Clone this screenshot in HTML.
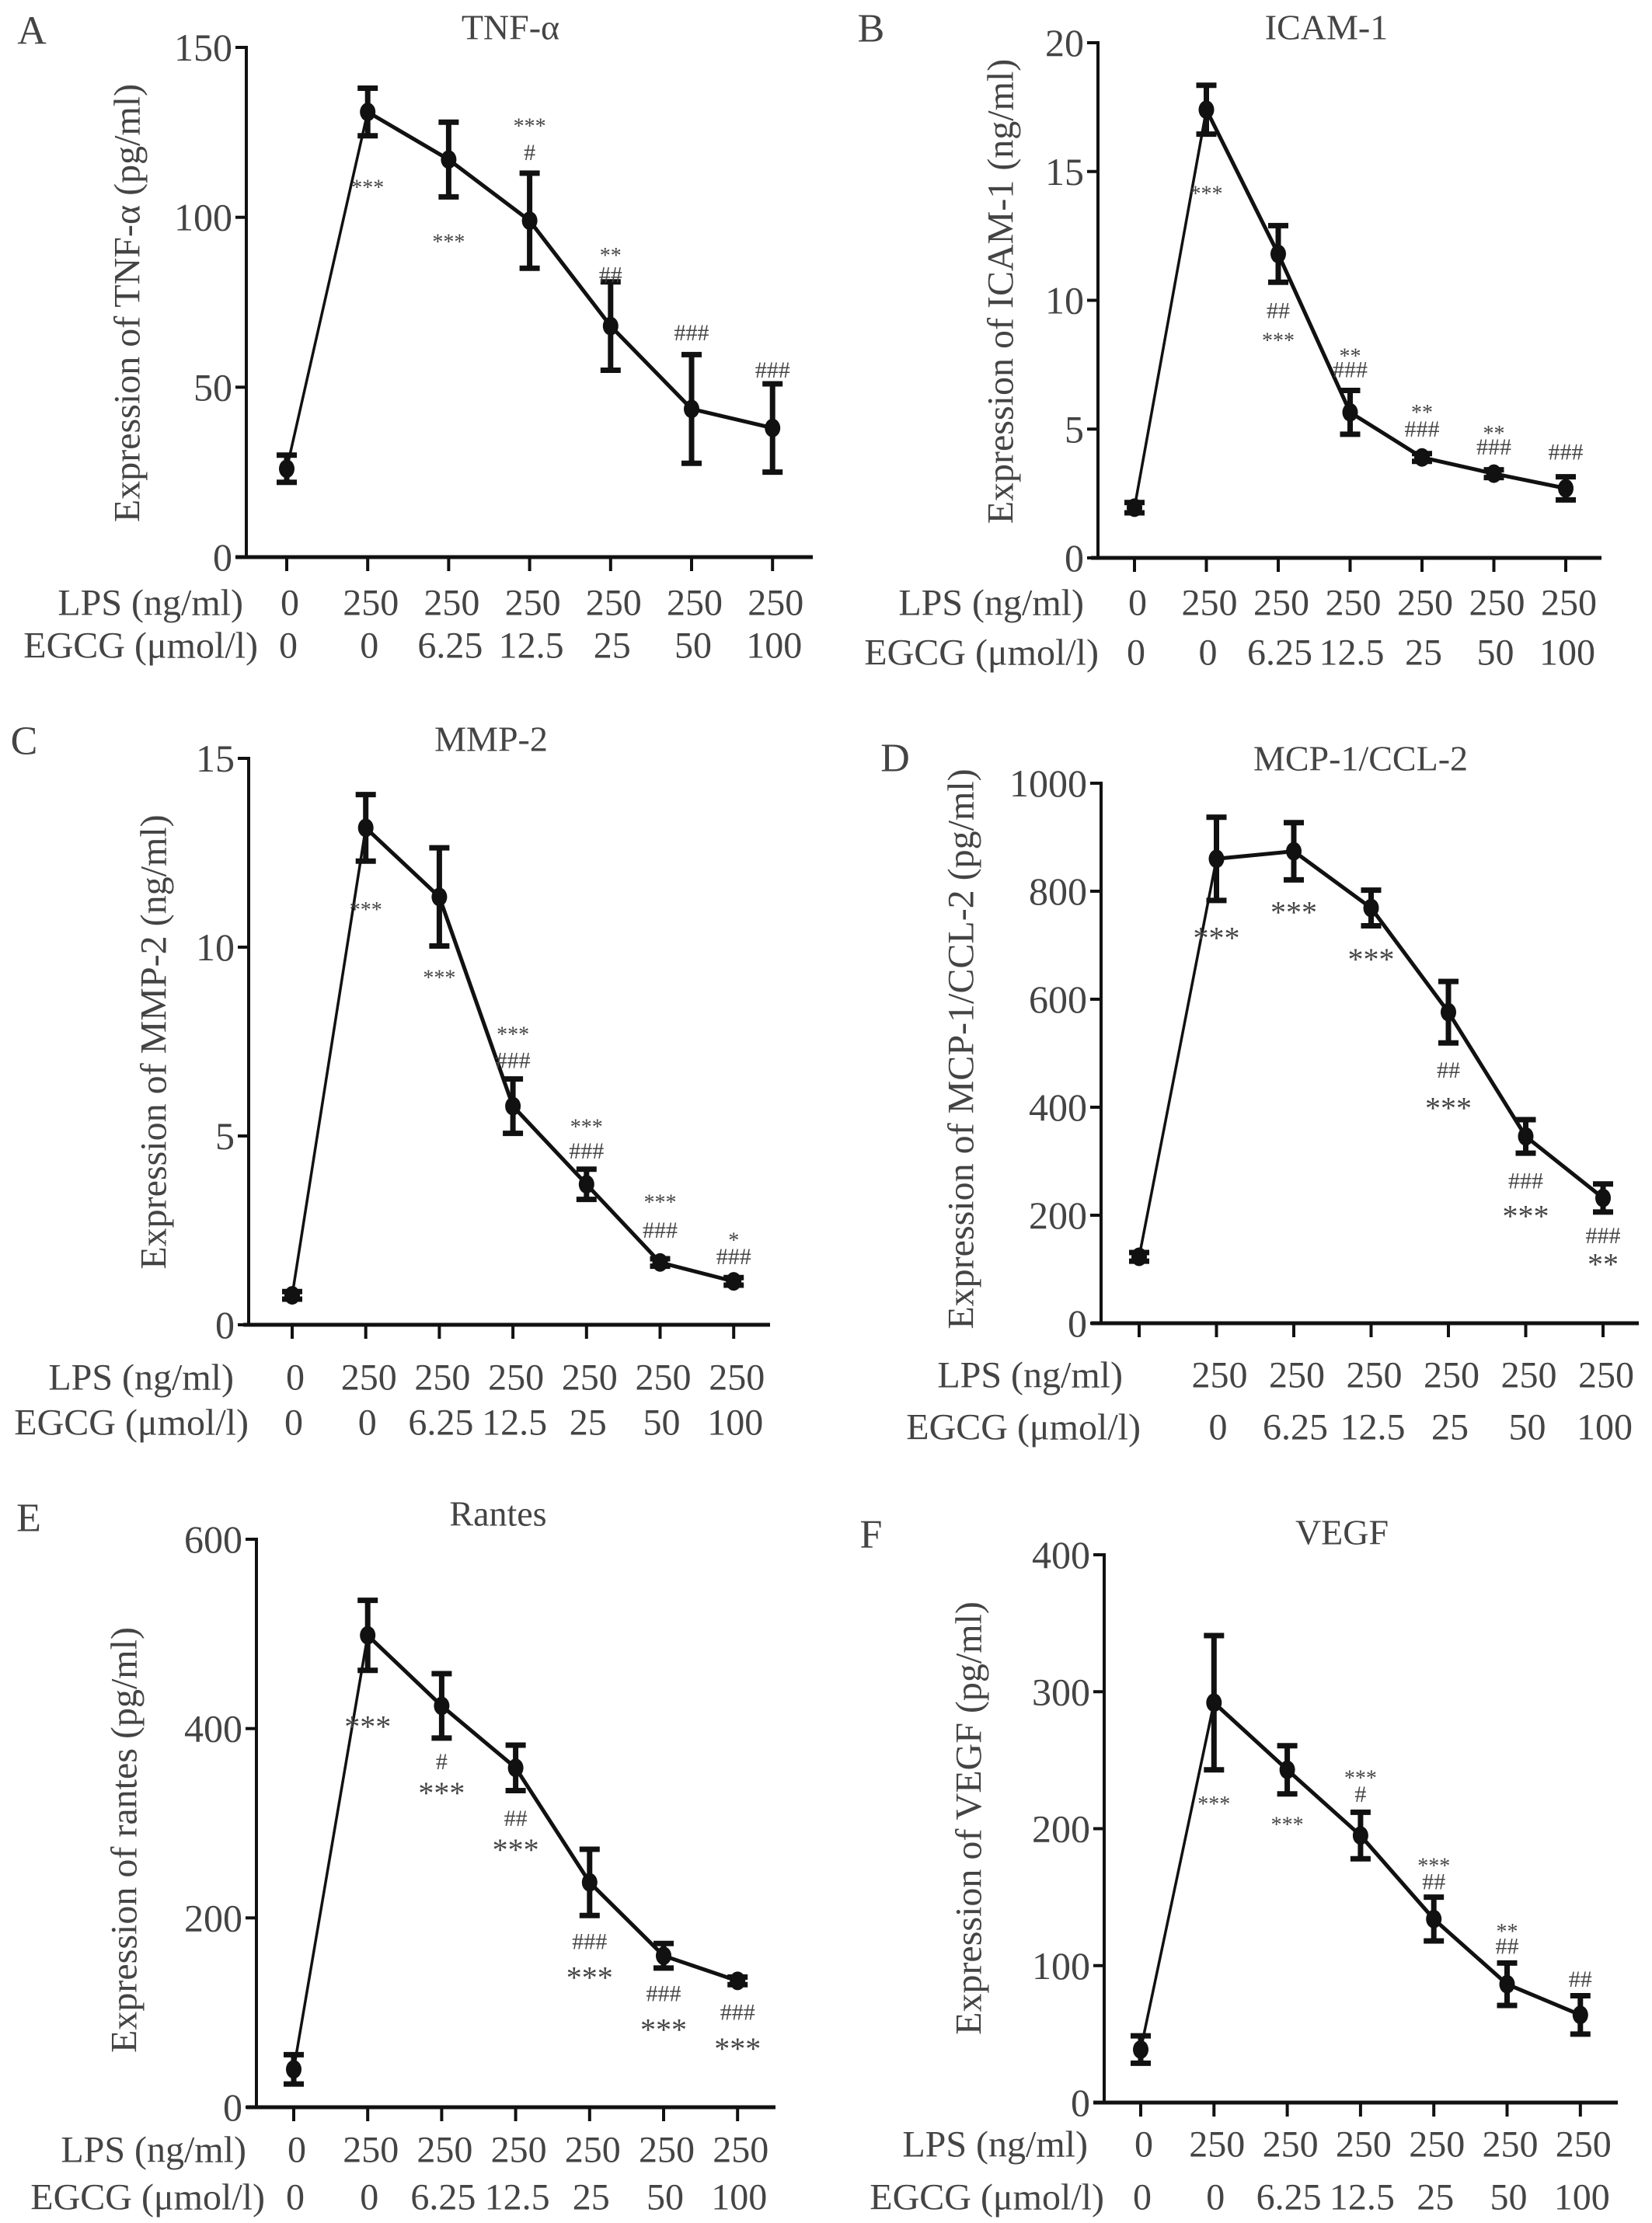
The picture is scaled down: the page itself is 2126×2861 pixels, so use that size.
<!DOCTYPE html>
<html><head><meta charset="utf-8">
<style>
html,body{margin:0;padding:0;background:#fff;}
svg{display:block;font-family:"Liberation Serif",serif;}
svg text{font-family:"Liberation Serif",serif;fill:#444;}
</style></head>
<body>
<svg id="fig" width="2126" height="2861" viewBox="0 0 2126 2861" xmlns="http://www.w3.org/2000/svg" font-family="Liberation Serif, serif"></svg>
<script>
// ---- data ----
const lpsLabels = ["0","250","250","250","250","250","250"];
const egcgLabels = ["0","0","6.25","12.5","25","50","100"];

const valuesA = [26, 131, 117, 99, 68, 43.6, 38];
const errorsA = [4, 7, 11, 14, 13, 16, 13];
const ticksA = [0, 50, 100, 150];
const annotA = [[1,"***",110],[2,"***",94],[3,"***",128],[3,"#",119],[4,"**",90],[4,"##",83],[5,"###",66],[6,"###",55]];

const valuesB = [1.95, 17.4, 11.8, 5.65, 3.9, 3.27, 2.7];
const errorsB = [0.2, 0.95, 1.1, 0.85, 0.15, 0.15, 0.45];
const ticksB = [0, 5, 10, 15, 20];
const annotB = [[1,"***",14.3],[2,"##",9.6],[2,"***",8.6],[3,"**",8.0],[3,"###",7.3],[4,"**",5.8],[4,"###",5.0],[5,"**",5.0],[5,"###",4.3],[6,"###",4.1]];

const valuesC = [0.78, 13.16, 11.33, 5.79, 3.72, 1.65, 1.15];
const errorsC = [0.1, 0.88, 1.3, 0.72, 0.4, 0.1, 0.1];
const ticksC = [0, 5, 10, 15];
const annotC = [[1,"***",11.1],[2,"***",9.3],[3,"***",7.8],[3,"###",7.0],[4,"***",5.35],[4,"###",4.6],[5,"***",3.35],[5,"###",2.5],[6,"*",2.35],[6,"###",1.8]];

const valuesD = [123, 860, 874, 769, 576, 346, 232];
const errorsD = [8, 77, 53, 33, 57, 31, 26];
const ticksD = [0, 200, 400, 600, 800, 1000];
const annotD = [[1,"***",722],[2,"***",770],[3,"***",683],[4,"##",468],[4,"***",407],[5,"###",263],[5,"***",207],[6,"###",162],[6,"**",118]];
const lpsLabelsD = ["","250","250","250","250","250","250"];
const egcgLabelsD = ["","0","6.25","12.5","25","50","100"];

const valuesE = [40, 498.5, 424, 358.5, 237.5, 160, 133.5];
const errorsE = [15.5, 37, 34, 24, 35, 13, 4];
const ticksE = [0, 200, 400, 600];
const annotE = [[1,"***",407],[2,"#",365],[2,"***",337],[3,"##",305],[3,"***",277],[4,"###",175],[4,"***",142],[5,"###",120],[5,"***",87],[6,"###",100],[6,"***",67]];

const valuesF = [38.7, 292, 243, 195, 134, 86.4, 64];
const errorsF = [10, 49, 17.6, 17, 16, 15.5, 14];
const ticksF = [0, 100, 200, 300, 400];
const annotF = [[1,"***",221],[2,"***",206],[3,"***",240],[3,"#",225],[4,"***",176],[4,"##",161],[5,"**",128],[5,"##",114],[6,"##",90]];

// ---- layout ----
const panels = [
 {id:"a",letter:"A",title:"TNF-α",ytitle:"Expression of TNF-α (pg/ml)",vals:valuesA,errs:errorsA,ticks:ticksA,ann:annotA,lps:lpsLabels,egcg:egcgLabels,
  ax:317,y0:717,yt:61,max:150,c0:369,cs:104.2,xa0:303,xa1:1046,rl:776,re:831,le:313,ee:332,tx:657,ty:35,lx:41,ly:40,ytx:164,yty:390,big:false},
 {id:"b",letter:"B",title:"ICAM-1",ytitle:"Expression of ICAM-1 (ng/ml)",vals:valuesB,errs:errorsB,ticks:ticksB,ann:annotB,lps:lpsLabels,egcg:egcgLabels,
  ax:1413,y0:718,yt:55,max:20,c0:1460,cs:92.5,xa0:1404,xa1:2061,rl:776,re:840,le:1395,ee:1414,tx:1707,ty:35,lx:1121,ly:37,ytx:1288,yty:375,big:false},
 {id:"c",letter:"C",title:"MMP-2",ytitle:"Expression of MMP-2 (ng/ml)",vals:valuesC,errs:errorsC,ticks:ticksC,ann:annotC,lps:lpsLabels,egcg:egcgLabels,
  ax:320,y0:1705,yt:976,max:15,c0:376,cs:94.7,xa0:313,xa1:991,rl:1773,re:1831,le:301,ee:320,tx:632,ty:951,lx:31,ly:954,ytx:198,yty:1341,big:false},
 {id:"d",letter:"D",title:"MCP-1/CCL-2",ytitle:"Expression of MCP-1/CCL-2 (pg/ml)",vals:valuesD,errs:errorsD,ticks:ticksD,ann:annotD,lps:lpsLabelsD,egcg:egcgLabelsD,
  ax:1417,y0:1703,yt:1008,max:1000,c0:1466,cs:99.5,xa0:1404,xa1:2109,rl:1770,re:1837,le:1445,ee:1468,tx:1751,ty:976,lx:1152,ly:976,ytx:1237,yty:1350,big:true},
 {id:"e",letter:"E",title:"Rantes",ytitle:"Expression of rantes (pg/ml)",vals:valuesE,errs:errorsE,ticks:ticksE,ann:annotE,lps:lpsLabels,egcg:egcgLabels,
  ax:330,y0:2712,yt:1981,max:600,c0:378,cs:95.2,xa0:317,xa1:998,rl:2767,re:2828,le:317,ee:341,tx:641,ty:1948,lx:37,ly:1954,ytx:160,yty:2368,big:true},
 {id:"f",letter:"F",title:"VEGF",ytitle:"Expression of VEGF (pg/ml)",vals:valuesF,errs:errorsF,ticks:ticksF,ann:annotF,lps:lpsLabels,egcg:egcgLabels,
  ax:1421,y0:2706,yt:2001,max:400,c0:1468,cs:94.3,xa0:1407,xa1:2082,rl:2760,re:2828,le:1400,ee:1421,tx:1727,ty:1972,lx:1121,ly:1975,ytx:1247,yty:2340,big:false}
];

const NS = "http://www.w3.org/2000/svg";
const svg = document.getElementById("fig");
function mk(tag, attrs, parent){
  const e = document.createElementNS(NS, tag);
  for (const k in attrs) e.setAttribute(k, attrs[k]);
  parent.appendChild(e);
  return e;
}
function txt(parent, x, y, s, size, anchor){
  const t = mk("text", {x:x, y:y, "font-size":size, "font-family":"Liberation Serif, serif", fill:"#444", "text-anchor":anchor||"middle", "dominant-baseline":"central"}, parent);
  t.textContent = s;
  return t;
}

panels.forEach(p => {
  const g = mk("g", {}, svg);
  
  
  const yS = v => p.y0 - (v / p.max) * (p.y0 - p.yt);
  const xS = i => p.c0 + i * p.cs;

  const letter = txt(g, p.lx, p.ly, p.letter, 52);
  
  
  const title = txt(g, p.tx, p.ty, p.title, 46);
  
  

  const yAxis = mk("line", {x1:p.ax, y1:p.yt-2, x2:p.ax, y2:p.y0, stroke:"#111", "stroke-width":4}, g);
  
  
  const xAxis = mk("line", {x1:p.xa0, y1:p.y0, x2:p.xa1, y2:p.y0, stroke:"#111", "stroke-width":5}, g);
  
  

  p.ticks.forEach(t => {
    const y = yS(t);
    const tk = mk("line", {x1:p.ax-14, y1:y, x2:p.ax, y2:y, stroke:"#111", "stroke-width":4}, g);
    
    
    const tl = txt(g, p.ax-18, y, String(t), 50, "end");
    
    
  });

  const yt = txt(g, p.ytx, p.yty, p.ytitle, 48);
  yt.setAttribute("transform", `rotate(-90 ${p.ytx} ${p.yty})`);
  
  

  const l1 = txt(g, p.le, p.rl, "LPS (ng/ml)", 48, "end");
  
  
  const l2 = txt(g, p.ee, p.re, "EGCG (μmol/l)", 48, "end");
  
  

  p.vals.forEach((v, i) => {
    const x = xS(i);
    const tk = mk("line", {x1:x, y1:p.y0, x2:x, y2:p.y0+18, stroke:"#111", "stroke-width":4}, g);
    
    
    if (p.lps[i]) {
      const a = txt(g, x+4, p.rl, p.lps[i], 48);
      
      
    }
    if (p.egcg[i]) {
      const b = txt(g, x+2, p.re, p.egcg[i], 48);
      
      
    }
  });

  const pts = p.vals.map((v, i) => xS(i) + "," + yS(v));
  const first = mk("line", {x1:xS(0), y1:yS(p.vals[0]), x2:xS(1), y2:yS(p.vals[1]), stroke:"#111", "stroke-width":3.5}, g);
  
  
  const rest = mk("polyline", {points:pts.slice(1).join(" "), fill:"none", stroke:"#111", "stroke-width":5, "stroke-linejoin":"round"}, g);
  
  

  p.vals.forEach((v, i) => {
    const x = xS(i), e = p.errs[i];
    const hi = yS(v + e), lo = yS(v - e);
    const eg = mk("g", {stroke:"#111", "stroke-width":7}, g);
    
    
    mk("line", {x1:x, y1:hi, x2:x, y2:lo}, eg);
    mk("line", {x1:x-13, y1:hi, x2:x+13, y2:hi}, eg);
    mk("line", {x1:x-13, y1:lo, x2:x+13, y2:lo}, eg);
    const c = mk("ellipse", {cx:x, cy:yS(v), rx:10, ry:12, fill:"#111"}, g);
    
    
  });

  p.ann.forEach(a => {
    const isStar = a[1].indexOf("*") >= 0;
    const size = isStar ? (p.big ? 40 : 28) : 30;
    const t = txt(g, xS(a[0]), yS(a[2]) + (isStar ? 6 : 0), a[1], size);
    
    
  });
});
</script>
</body></html>
